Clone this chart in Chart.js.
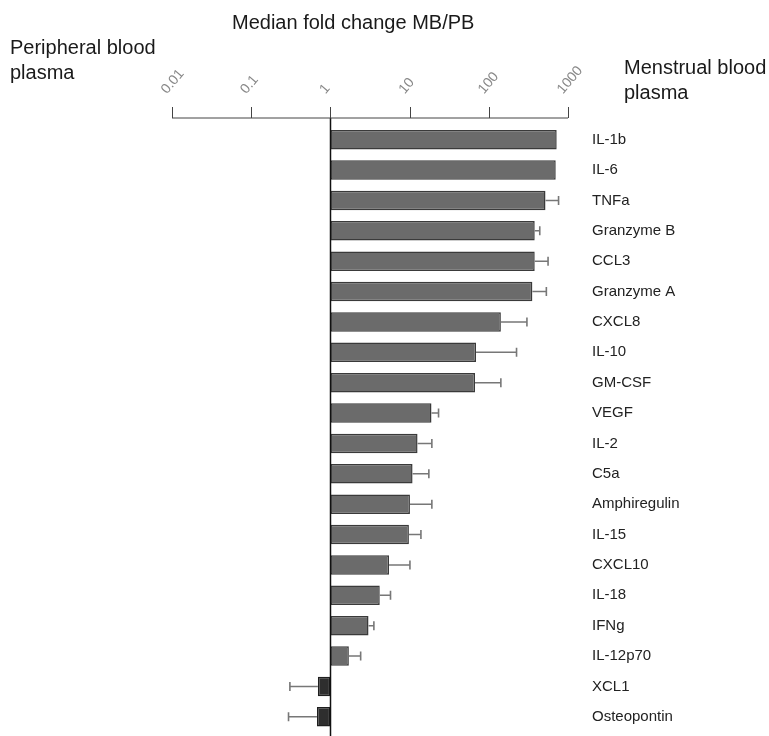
<!DOCTYPE html>
<html>
<head>
<meta charset="utf-8">
<script src="https://cdn.jsdelivr.net/npm/chart.js@4"></script>
<style>
  html, body { margin: 0; padding: 0; background: #fff; }
  #wrap { width: 769px; height: 736px; }
</style>
</head>
<body>
<div id="wrap"><canvas id="myChart"></canvas></div>
<script>
// data
const markers = ['IL-1b', 'IL-6', 'TNFa', 'Granzyme B', 'CCL3', 'Granzyme A', 'CXCL8', 'IL-10',
  'GM-CSF', 'VEGF', 'IL-2', 'C5a', 'Amphiregulin', 'IL-15', 'CXCL10', 'IL-18', 'IFNg',
  'IL-12p70', 'XCL1', 'Osteopontin'];
const medianFold = [720, 700, 520, 380, 380, 355, 142, 69, 67, 18.9, 12.6, 10.9, 10.1, 9.8,
  5.5, 4.2, 3.03, 1.71, 0.695, 0.676];
// far end of each whisker (null = none shown)
const whiskerEnd = [null, null, 760, 440, 560, 533, 303, 224, 142, 23.2, 19.1, 17.5, 19.1, 13.9,
  10.1, 5.74, 3.54, 2.41, 0.308, 0.296];
const tickValues = [0.01, 0.1, 1, 10, 100, 1000];
const tickLabels = ['0.01', '0.1', '1', '10', '100', '1000'];

const FONT = 'Liberation Sans, Arial, Helvetica, sans-serif';

// whiskers, top axis line, centre line and corner captions
const decorations = {
  id: 'decorations',
  afterDatasetsDraw(chart) {
    const { ctx, scales: { x, y } } = chart;
    const meta = chart.getDatasetMeta(0);
    ctx.save();

    // whiskers
    ctx.strokeStyle = '#777';
    ctx.lineWidth = 1.6;
    meta.data.forEach((bar, i) => {
      const w = whiskerEnd[i];
      if (w == null) return;
      const x0 = x.getPixelForValue(medianFold[i]);
      const x1 = x.getPixelForValue(w);
      ctx.beginPath();
      ctx.moveTo(x0, bar.y);
      ctx.lineTo(x1, bar.y);
      ctx.moveTo(x1, bar.y - 4.5);
      ctx.lineTo(x1, bar.y + 4.5);
      ctx.stroke();
    });

    // vertical line at fold change 1
    const xOne = Math.round(x.getPixelForValue(1)) + 0.5;
    const axisY = chart.chartArea.top - 6.5;
    ctx.strokeStyle = '#111';
    ctx.lineWidth = 1.5;
    ctx.beginPath();
    ctx.moveTo(xOne, axisY);
    ctx.lineTo(xOne, chart.height);
    ctx.stroke();

    // top axis with tick marks
    ctx.strokeStyle = '#444';
    ctx.lineWidth = 1;
    ctx.beginPath();
    ctx.moveTo(x.getPixelForValue(tickValues[0]), axisY);
    ctx.lineTo(x.getPixelForValue(tickValues[tickValues.length - 1]), axisY);
    tickValues.forEach(v => {
      const px = Math.round(x.getPixelForValue(v)) + 0.5;
      ctx.moveTo(px, axisY);
      ctx.lineTo(px, axisY - 11);
    });
    ctx.stroke();

    // captions
    ctx.fillStyle = '#1a1a1a';
    ctx.font = '20px ' + FONT;
    ctx.textAlign = 'left';
    ctx.textBaseline = 'alphabetic';
    ctx.fillText('Median fold change MB/PB', 232, 29);
    ctx.fillText('Peripheral blood', 10, 54);
    ctx.fillText('plasma', 10, 79);
    ctx.fillText('Menstrual blood', 624, 74);
    ctx.fillText('plasma', 624, 99);
    ctx.restore();
  }
};

const config = {
  type: 'bar',
  data: {
    labels: markers,
    datasets: [{
      data: medianFold,
      base: 1,
      backgroundColor: medianFold.map(v => v < 1 ? '#2e2e2e' : '#6b6b6b'),
      borderColor: medianFold.map(v => v < 1 ? '#1e1e1e' : '#3a3a3a'),
      borderWidth: 1.5,
      borderSkipped: false,
      categoryPercentage: 1,
      barPercentage: 0.64
    }]
  },
  options: {
    indexAxis: 'y',
    responsive: true,
    maintainAspectRatio: false,
    animation: false,
    layout: { padding: { left: 172, right: 0, top: 0, bottom: 4 } },
    plugins: {
      legend: { display: false },
      tooltip: { enabled: false }
    },
    scales: {
      x: {
        type: 'logarithmic',
        position: 'top',
        min: 0.01,
        max: 1000,
        grid: { display: false, drawTicks: false },
        border: { display: false },
        afterBuildTicks(scale) {
          scale.ticks = tickValues.map(v => ({ value: v }));
        },
        afterFit(scale) {
          scale.height = 124.5;
        },
        ticks: {
          autoSkip: false,
          minRotation: 50,
          maxRotation: 50,
          padding: 27,
          labelOffset: 5,
          color: '#888',
          font: { family: FONT, size: 14 },
          callback: (value, index) => tickLabels[index]
        }
      },
      y: {
        position: 'right',
        // tick marks hidden, tickLength only spaces the labels away from the bars
        grid: { display: false, drawTicks: true, tickLength: 24 },
        border: { display: false },
        afterFit(scale) {
          scale.width = 769 - 568;
          // let the bar rows run down to the bottom edge
          scale.paddingTop = 0;
          scale.paddingBottom = 0;
        },
        ticks: {
          padding: 0,
          color: '#222',
          font: { family: FONT, size: 15 }
        }
      }
    }
  },
  plugins: [decorations]
};

const myChart = new Chart(document.getElementById('myChart'), config);
</script>
</body>
</html>
